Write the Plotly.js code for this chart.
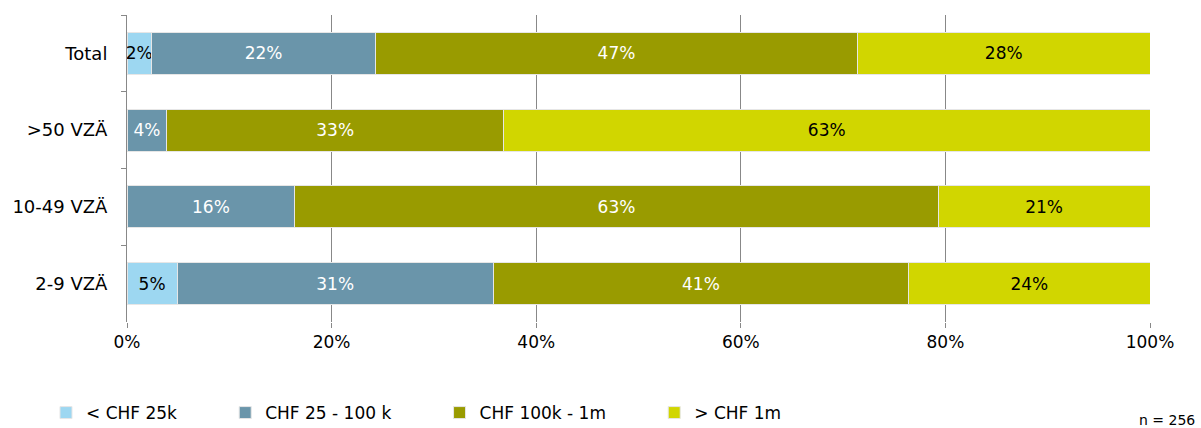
<!DOCTYPE html>
<html><head><meta charset="utf-8">
<script src="https://cdn.plot.ly/plotly-3.0.1.min.js"></script>
<style>body{margin:0;background:#fff}#c{width:1201px;height:428px}</style>
</head><body><div id="c"></div>
<script>
const categories = ['Total', '>50 VZÄ', '10-49 VZÄ', '2-9 VZÄ'];
const seriesNames = ['< CHF 25k', 'CHF 25 - 100 k', 'CHF 100k - 1m', '> CHF 1m'];
const under25k   = [2.4, 0, 0, 4.9];
const from25to100 = [21.9, 3.9, 16.4, 30.9];
const from100kto1m = [47.1, 32.9, 62.9, 40.6];
const over1m     = [28.6, 63.2, 20.7, 23.6];
const labels = [
  ['2%', '', '', '5%'],
  ['22%', '4%', '16%', '31%'],
  ['47%', '33%', '63%', '41%'],
  ['28%', '63%', '21%', '24%']
];
const colors = ['#9dd7f1', '#6a95aa', '#999b00', '#d1d600'];
const textColors = ['#000000', '#ffffff', '#ffffff', '#000000'];
const xTicks = [0, 20, 40, 60, 80, 100];
const xTickText = ['0%', '20%', '40%', '60%', '80%', '100%'];

const values = [under25k, from25to100, from100kto1m, over1m];
const font = 'DejaVu Sans, sans-serif';
const pad = '\u00a0'.repeat(8);
const data = values.map((v, i) => ({
  type: 'bar', orientation: 'h', name: seriesNames[i] + (i < 3 ? pad : ''),
  y: categories, x: v, text: labels[i],
  textposition: 'inside', insidetextanchor: 'middle', textangle: 0,
  texttemplate: '%{text}', constraintext: 'none', cliponaxis: false,
  textfont: {family: font, size: 17, color: textColors[i]},
  marker: {color: colors[i], line: {color: '#e6e6e6', width: 1}},
  width: 0.55, hoverinfo: 'none'
}));

const layout = {
  width: 1201, height: 428,
  margin: {l: 127, r: 51, t: 15, b: 106},
  barmode: 'stack', bargap: 0,
  uniformtext: {mode: 'show', minsize: 17},
  paper_bgcolor: '#fff', plot_bgcolor: '#fff',
  font: {family: font, size: 17, color: '#000'},
  showlegend: true,
  legend: {orientation: 'h', xref: 'container', yref: 'container', x: 0.0383, y: 0.035,
    xanchor: 'left', yanchor: 'middle', font: {family: font, size: 17},
    traceorder: 'normal', itemwidth: 30},
  xaxis: {range: [0, 100], tickvals: xTicks, ticktext: xTickText,
    showgrid: true, gridcolor: '#888', gridwidth: 1,
    zeroline: false, showline: false, ticks: 'outside', ticklen: 5, tickcolor: '#888',
    tickfont: {family: font, size: 17}, fixedrange: true},
  yaxis: {type: 'category', categoryorder: 'array', categoryarray: categories,
    autorange: 'reversed', showgrid: false, zeroline: false,
    showline: true, linecolor: '#888', linewidth: 1,
    ticks: 'outside', ticklen: 5, tickcolor: '#888', tickson: 'boundaries',
    ticklabelstandoff: 15,
    tickfont: {family: font, size: 18}},
  annotations: [{text: 'n = 256', xref: 'paper', yref: 'paper', x: 1.046, y: -0.352,
    xanchor: 'right', yanchor: 'bottom', showarrow: false,
    font: {family: font, size: 14, color: '#000'}}]
};
Plotly.newPlot('c', data, layout, {displayModeBar: false, staticPlot: true});
</script></body></html>
